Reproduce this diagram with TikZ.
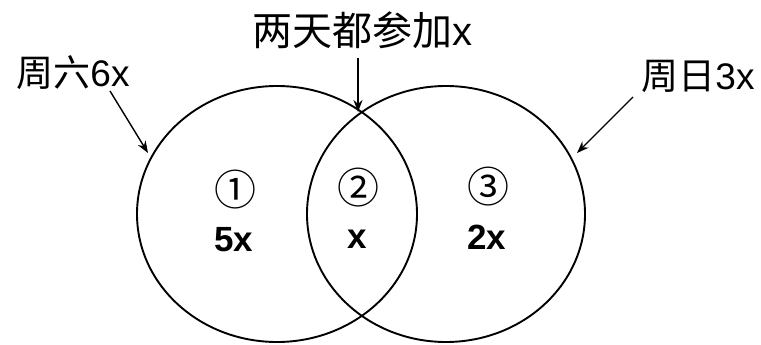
\documentclass[tikz,border=0pt]{standalone}
\usepackage{fontspec}
\setmainfont{Liberation Sans}
\newfontfamily\cjk{Noto Sans CJK SC}
\newfontfamily\circfont{Noto Sans CJK SC}
\usetikzlibrary{arrows.meta}

\begin{document}
\begin{tikzpicture}[x=1pt,y=-1pt,
	venn/.style={line width=1.9pt},
	pointer/.style={line width=1.4pt,-{Stealth[length=12pt,width=9pt]}},
	tag/.style={font=\fontsize{37}{40}\selectfont,inner sep=0pt},
	num/.style={font=\fontsize{42}{46}\circfont,inner sep=0pt},
	val/.style={font=\fontsize{35}{38}\selectfont\bfseries,inner sep=0pt}]
	\useasboundingbox (0,0) rectangle (761,345);
	% the two sets
	\draw[venn] (277,214) ellipse [x radius=140, y radius=128];
	\draw[venn] (446,214) ellipse [x radius=139, y radius=128];
	% labels outside
	\node[tag] (sat) at (73,73) {{\cjk 周六}6x};
	\node[tag] (sun) at (698,76) {{\cjk 周日}3x};
	\node[tag,font=\fontsize{40}{44}\selectfont] (both) at (362,30) {{\cjk 两天都参加}x};
	\coordinate (satstart) at (110,91);
	\coordinate (sunstart) at (633,97);
	\coordinate (bothstart) at (358,58);
	\coordinate (satend) at (148,153);
	\coordinate (sunend) at (577,153);
	\coordinate (bothend) at (358,112);
	\draw[pointer] (satstart) -- (satend);
	\draw[pointer] (sunstart) -- (sunend);
	\draw[pointer,line width=2.2pt] (bothstart) -- (bothend);
	% regions
	\node[num] (r1) at (235,190) {①};
	\node[num] (r2) at (358,188) {②};
	\node[num] (r3) at (488,187) {③};
	\node[val] (v1) at (234,240) {5x};
	\node[val] (v2) at (357,239) {x};
	\node[val] (v3) at (487,237) {2x};
\end{tikzpicture}
\end{document}
